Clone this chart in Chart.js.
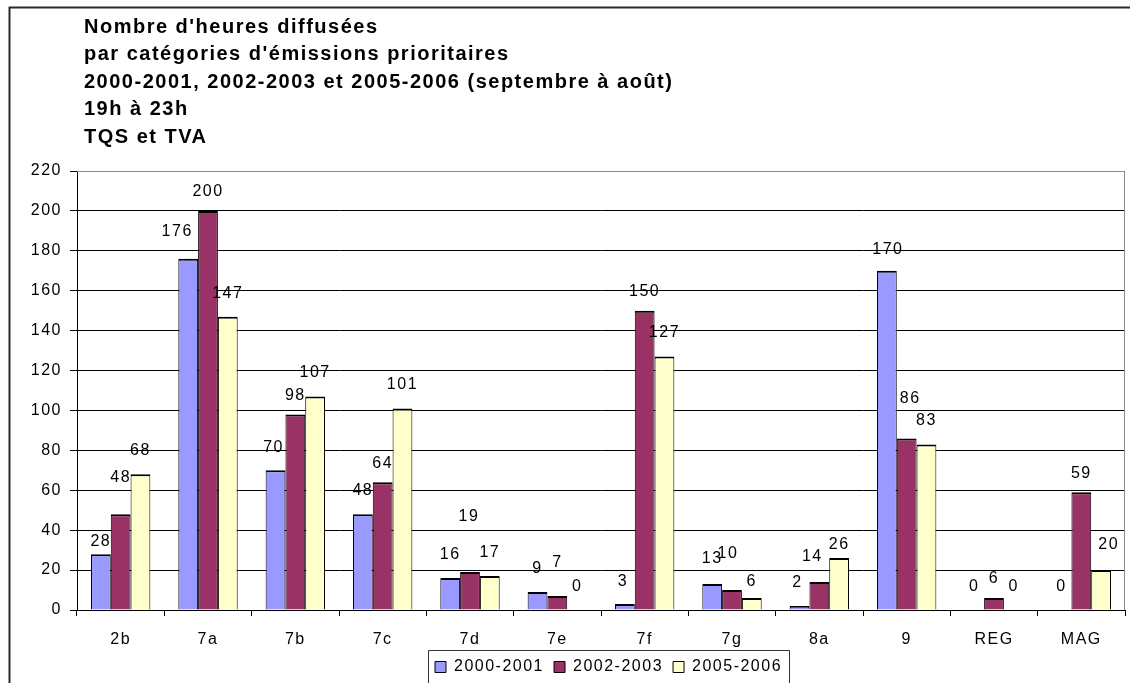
<!DOCTYPE html>
<html>
<head>
<meta charset="utf-8">
<script src="https://cdn.jsdelivr.net/npm/chart.js@4.4.1/dist/chart.umd.min.js"></script>
<style>
html,body{margin:0;padding:0;background:#ffffff;overflow:hidden}
canvas{display:block}
</style>
</head>
<body>
<canvas id="c" width="1130" height="683"></canvas>
<script>
// ---------- data ----------
const categories = ['2b', '7a', '7b', '7c', '7d', '7e', '7f', '7g', '8a', '9', 'REG', 'MAG'];
const seriesNames = ['2000-2001', '2002-2003', '2005-2006'];
const values2000 = [28, 176, 70, 48, 16, 9, 3, 13, 2, 170, 0, 0];
const values2002 = [48, 200, 98, 64, 19, 7, 150, 10, 14, 86, 6, 59];
const values2005 = [68, 147, 107, 101, 17, 0, 127, 6, 26, 83, 0, 20];
const yTickValues = [0, 20, 40, 60, 80, 100, 120, 140, 160, 180, 200, 220];
const titleLines = [
  "Nombre d'heures diffusées",
  "par catégories d'émissions prioritaires",
  "2000-2001, 2002-2003 et 2005-2006 (septembre à août)",
  "19h à 23h",
  "TQS et TVA"
];

// ---------- styles ----------
const seriesColors = ['#9999FF', '#993366', '#FFFFCC'];
const FONT = "'Liberation Sans', Arial, Helvetica, sans-serif";
const LETTER_SPACING = '1.5px';
// value-label placement: lift above bar top (px) per series, with a few nudges [dx, lift]
const labelLift = [23.5, 19, 23.5];
const labelNudge = {
  '0,0': [0, 13], '1,0': [0, 37], '0,1': [-11, 27], '0,2': [-2, 23],
  '1,4': [-1, 55], '1,5': [0, 33], '0,6': [-2, 22], '0,7': [0, 25],
  '1,7': [-4, 36], '2,7': [0, 16], '0,8': [-2, 23], '1,8': [-7, 25],
  '2,8': [0, 14], '0,9': [1, 21.5], '1,9': [3.5, 40], '2,11': [7.5, 25]
};

const allValues = [values2000, values2002, values2005];

function setSpacing(chart) {
  if ('letterSpacing' in chart.ctx) chart.ctx.letterSpacing = LETTER_SPACING;
}

const spacingPlugin = {
  id: 'spacing',
  beforeUpdate: setSpacing,
  beforeLayout: setSpacing,
  beforeDraw: setSpacing,
  resize: setSpacing
};

const legendPlace = {
  id: 'legendPlace',
  afterLayout(chart) {
    const lg = chart.legend;
    if (!lg || !lg.lineWidths) return;
    const pad = lg.options.labels.padding;
    const lw = lg.lineWidths[0];
    const start = (lg.left + pad + lg.right - lw) / 2;
    const shift = 435 - start;
    lg.left += shift; lg.right += shift;
    const h = lg.height;
    lg.top = 649; lg.bottom = 649 + h;
  }
};

const decor = {
  id: 'decor',
  beforeDraw(chart) {
    const ctx = chart.ctx;
    ctx.save();
    ctx.fillStyle = '#ffffff';
    ctx.fillRect(0, 0, chart.width, chart.height);
    ctx.restore();
  },
  afterDraw(chart) {
    const ctx = chart.ctx;
    const a = chart.chartArea;
    ctx.save();
    setSpacing(chart);
    // plot area frame (top & right)
    ctx.strokeStyle = '#8a8a8a';
    ctx.lineWidth = 1;
    ctx.beginPath();
    ctx.moveTo(a.left, Math.round(a.top) + 0.5);
    ctx.lineTo(Math.round(a.right) - 0.5, Math.round(a.top) + 0.5);
    ctx.lineTo(Math.round(a.right) - 0.5, a.bottom);
    ctx.stroke();
    // outer chart border (left & top)
    ctx.strokeStyle = '#2a2a2a';
    ctx.lineWidth = 2;
    ctx.beginPath();
    ctx.moveTo(9.5, chart.height + 5);
    ctx.lineTo(9.5, 7.5);
    ctx.lineTo(chart.width + 5, 7.5);
    ctx.stroke();
    // title
    ctx.fillStyle = '#000000';
    ctx.font = 'bold 20px ' + FONT;
    ctx.textAlign = 'left';
    ctx.textBaseline = 'alphabetic';
    titleLines.forEach((t, i) => ctx.fillText(t, 84, 32.5 + i * 27.5));
    // legend frame
    const lg = chart.legend;
    if (lg && lg.lineWidths) {
      const pad = lg.options.labels.padding;
      const lw = lg.lineWidths[0];
      const start = (lg.left + pad + lg.right - lw) / 2;
      ctx.strokeStyle = '#333333';
      ctx.lineWidth = 1;
      ctx.beginPath();
      ctx.moveTo(Math.round(start - 7) + 0.5, chart.height + 5);
      ctx.lineTo(Math.round(start - 7) + 0.5, Math.round(lg.top) + 1.5);
      ctx.lineTo(Math.round(start + lw - 3) + 0.5, Math.round(lg.top) + 1.5);
      ctx.lineTo(Math.round(start + lw - 3) + 0.5, chart.height + 5);
      ctx.stroke();
    }
    ctx.restore();
  }
};

const valueLabels = {
  id: 'valueLabels',
  afterDatasetsDraw(chart) {
    const ctx = chart.ctx;
    ctx.save();
    setSpacing(chart);
    ctx.font = '16px ' + FONT;
    ctx.fillStyle = '#000000';
    ctx.textAlign = 'center';
    ctx.textBaseline = 'middle';
    chart.data.datasets.forEach((ds, si) => {
      const meta = chart.getDatasetMeta(si);
      meta.data.forEach((el, ci) => {
        const nudge = labelNudge[si + ',' + ci] || [0, labelLift[si]];
        ctx.fillText(String(ds.data[ci]), el.x + nudge[0], el.y - nudge[1]);
      });
    });
    ctx.restore();
  }
};

Chart.defaults.font.family = FONT;
Chart.defaults.font.size = 16;
Chart.defaults.color = '#000000';

new Chart(document.getElementById('c'), {
  type: 'bar',
  data: {
    labels: categories,
    datasets: allValues.map((vals, i) => ({
      label: seriesNames[i],
      data: vals,
      backgroundColor: seriesColors[i],
      borderColor: '#000000',
      borderWidth: { top: 2, left: 1, right: 1, bottom: 0 },
      borderSkipped: false,
      categoryPercentage: 0.68,
      barPercentage: 1.0
    }))
  },
  options: {
    responsive: false,
    devicePixelRatio: 1,
    animation: false,
    events: [],
    layout: { padding: { left: 9, right: 5, top: 171, bottom: -17 } },
    plugins: {
      title: { display: false },
      tooltip: { enabled: false },
      legend: {
        display: true,
        position: 'bottom',
        labels: {
          boxWidth: 11,
          boxHeight: 11,
          padding: 10,
          color: '#000000',
          font: { size: 16, family: FONT }
        }
      }
    },
    scales: {
      x: {
        offset: true,
        grid: {
          display: true,
          offset: true,
          drawOnChartArea: false,
          drawTicks: true,
          tickLength: 6,
          tickColor: '#000000',
          color: '#000000'
        },
        border: { display: true, color: '#000000', width: 1 },
        ticks: {
          color: '#000000',
          font: { size: 16, family: FONT },
          padding: 14.4,
          maxRotation: 0,
          autoSkip: false
        }
      },
      y: {
        min: 0,
        max: 220,
        afterBuildTicks(scale) {
          scale.ticks = yTickValues.map(v => ({ value: v }));
        },
        afterFit(scale) { scale.width = 68; },
        grid: {
          color: (c) => (c.tick && c.tick.value === 220) ? '#8a8a8a' : '#000000',
          lineWidth: 1,
          drawTicks: true,
          tickLength: 7,
          tickColor: '#000000'
        },
        border: { display: true, color: '#000000', width: 1 },
        ticks: {
          color: '#000000',
          font: { size: 16, family: FONT },
          padding: 8
        }
      }
    }
  },
  plugins: [spacingPlugin, legendPlace, decor, valueLabels]
});
</script>
</body>
</html>
